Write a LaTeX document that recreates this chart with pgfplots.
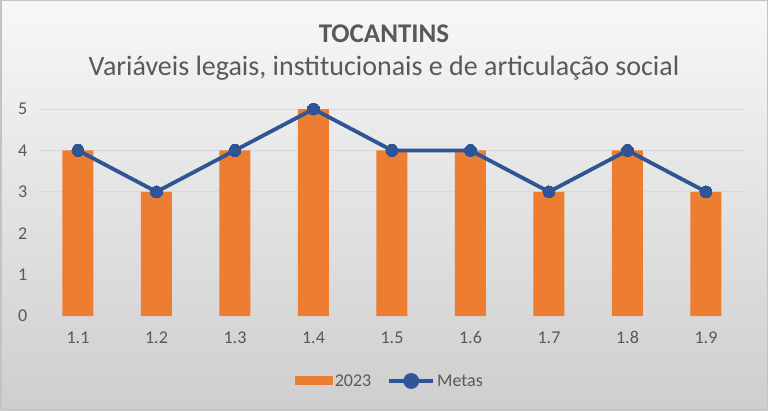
\documentclass[border=0pt]{standalone}
\usepackage{pgfplots}
\pgfplotsset{compat=1.18}
\usepackage{fontspec}
\setmainfont{Carlito}
\definecolor{barorange}{HTML}{ED7D31}
\definecolor{lineblue}{HTML}{2F5597}
\definecolor{txt}{HTML}{595959}
\definecolor{gridc}{HTML}{D9D9D9}
\begin{document}
\begin{tikzpicture}
\useasboundingbox (0,0) rectangle (768pt,410pt);
\shade[top color=white!97!black, bottom color=gridc!95!black] (0,0) rectangle (768pt,410pt);
\draw[gridc!90!black, line width=1.5pt] (0.75pt,0.75pt) rectangle (767.25pt,409.25pt);
\node[text=txt, font=\bfseries\fontsize{27}{32}\selectfont] at (384pt,376pt) {TOCANTINS};
\node[text=txt, font=\fontsize{28}{33}\selectfont] at (384pt,342pt) {Variáveis legais, institucionais e de articulação social};
\begin{axis}[
  at={(38.75pt,94pt)}, anchor=south west,
  scale only axis, width=706.5pt, height=207pt,
  xmin=0.5, xmax=9.5, ymin=0, ymax=5,
  xtick={1,...,9},
  xticklabels={1.1,1.2,1.3,1.4,1.5,1.6,1.7,1.8,1.9},
  ytick={0,1,2,3,4,5},
  ymajorgrids, grid style={gridc, line width=0.8pt},
  axis line style={draw=none},
  major tick length=0pt,
  tick label style={text=txt, font=\fontsize{18}{21}\selectfont},
  /pgf/number format/assume math mode=true,
  xticklabel style={yshift=-12pt},
  yticklabel style={xshift=-8pt},
  legend columns=2,
  legend style={at={(0.497,-0.314)}, anchor=center, draw=none, fill=none,
    text=txt, font=\fontsize{18}{21}\selectfont,
    /tikz/every odd column/.append style={column sep=0pt},
    /tikz/every even column/.append style={column sep=14pt}},
  legend image code/.code={},
]
\addplot[ybar, bar width=31pt, fill=barorange, draw=none, bar shift=0pt,
  legend image code/.code={\fill[barorange] (0pt,-4.5pt) rectangle (38pt,4.5pt);}]
  coordinates {(1,4) (2,3) (3,4) (4,5) (5,4) (6,4) (7,3) (8,4) (9,3)};
\addlegendentry{2023}
\addplot[lineblue, line width=3.8pt, mark=*, mark size=6pt, mark options={fill=lineblue, line width=0pt},
  legend image code/.code={\draw[lineblue, line width=3.8pt] (0pt,0pt) -- (44pt,0pt); \fill[lineblue] (22pt,0pt) circle (6pt);}]
  coordinates {(1,4) (2,3) (3,4) (4,5) (5,4) (6,4) (7,3) (8,4) (9,3)};
\addlegendentry{Metas}
\end{axis}
\end{tikzpicture}
\end{document}
